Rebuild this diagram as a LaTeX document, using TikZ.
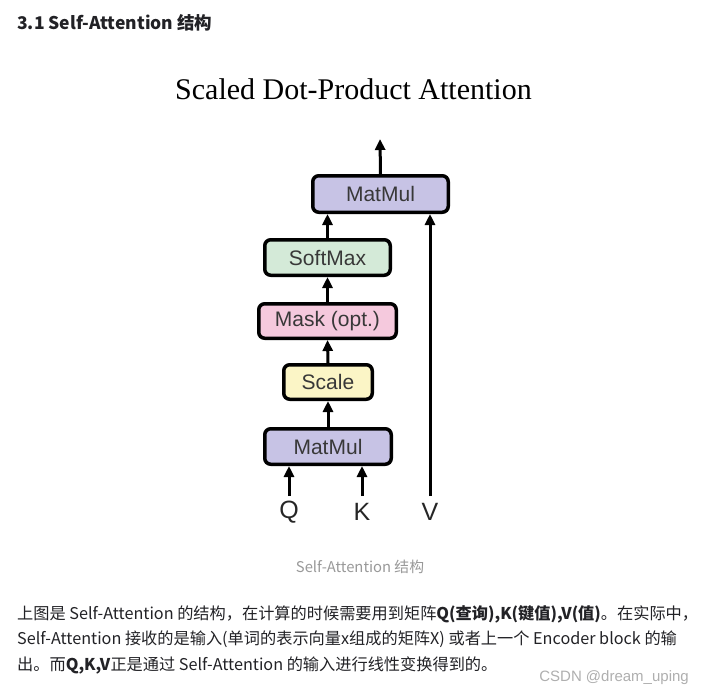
\documentclass[tikz,border=0pt]{standalone}
\usepackage{fontspec}
\setmainfont{Noto Sans CJK SC}
\newfontfamily\helv{Liberation Sans}
\newfontfamily\tms{Liberation Serif}
\usetikzlibrary{arrows.meta}
\definecolor{matc}{RGB}{199,195,229}
\definecolor{softc}{RGB}{212,234,216}
\definecolor{maskc}{RGB}{245,201,221}
\definecolor{scalec}{RGB}{251,245,198}
\definecolor{txt}{RGB}{34,34,38}
\definecolor{capc}{RGB}{153,153,153}
\definecolor{wmc}{RGB}{175,175,175}
\begin{document}
\begin{tikzpicture}[x=1pt,y=-1pt,
  blk/.style={draw=black, line width=3.5pt, rounded corners=6pt, inner sep=0pt,
    font=\helv\fontsize{21}{21}\selectfont, text=black!78},
  arr/.style={line width=3pt, -{Triangle[length=11pt,width=10pt]}},
  lbl/.style={font=\helv\fontsize{25}{25}\selectfont, inner sep=0pt, text=black!85},
  para/.style={anchor=base west, inner sep=0pt, text=txt, font=\fontsize{16.2}{16.2}\selectfont},
]
\useasboundingbox (0,0) rectangle (702,694);
\fill[white] (0,0) rectangle (702,694);

% heading
\node[anchor=base west, inner sep=0pt, text=txt, font=\bfseries\fontsize{17.5}{17.5}\selectfont] (head) at (17,29.5) {3.1 Self-Attention 结构};

% title
\node[anchor=base, inner sep=0pt, font=\tms\fontsize{30}{30}\selectfont] (title) at (353.5,99) {Scaled Dot-Product Attention};

% blocks
\node[blk, fill=matc, minimum width=135.5pt, minimum height=36.5pt] (top) at (380.5,194) {MatMul};
\node[blk, fill=softc, minimum width=125.5pt, minimum height=35.5pt] (soft) at (327.5,257.5) {SoftMax};
\node[blk, fill=maskc, minimum width=137.5pt, minimum height=34.5pt] (mask) at (327.5,321) {Mask (opt.)};
\node[blk, fill=scalec, minimum width=88.5pt, minimum height=34.5pt] (scale) at (328,382) {Scale};
\node[blk, fill=matc, minimum width=126.5pt, minimum height=35.5pt] (mm1) at (328,446.5) {MatMul};

% inputs
\node[lbl] (Q) at (289,512) {Q};
\node[lbl] (K) at (362,512) {K};
\node[lbl] (V) at (430,512) {V};
\coordinate (qs) at (289,496);
\coordinate (ks) at (362,496);
\coordinate (vs) at (430,496);
\coordinate (out) at (380,139);

% arrows
\draw[arr] (qs) -- (qs |- mm1.south);
\draw[arr] (ks) -- (ks |- mm1.south);
\draw[arr] (vs) -- (vs |- top.south);
\draw[arr] (mm1.north) -- (scale.south);
\draw[arr] (scale.north) -- (mask.south);
\draw[arr] (mask.north) -- (soft.south);
\draw[arr] (soft.north) -- (soft.north |- top.south);
\draw[arr] (top.north) -- (out);

% caption
\node[anchor=base, inner sep=0pt, text=capc, font=\fontsize{14.8}{14.8}\selectfont] (cap) at (360,572) {Self-Attention 结构};

% paragraph
\node[para] (l1) at (17,619) {上图是 Self-Attention 的结构，在计算的时候需要用到矩阵\textbf{Q(查询),K(键值),V(值)}。在实际中，};
\node[para] (l2) at (17,644.5) {Self-Attention 接收的是输入(单词的表示向量x组成的矩阵X) 或者上一个 Encoder block 的输};
\node[para] (l3) at (17,670) {出。而\textbf{Q,K,V}正是通过 Self-Attention 的输入进行线性变换得到的。};

% watermark
\node[anchor=base east, inner sep=0pt, text=wmc, font=\helv\fontsize{15}{15}\selectfont] (wm) at (689,681) {CSDN @dream\_uping};
\end{tikzpicture}
\end{document}
